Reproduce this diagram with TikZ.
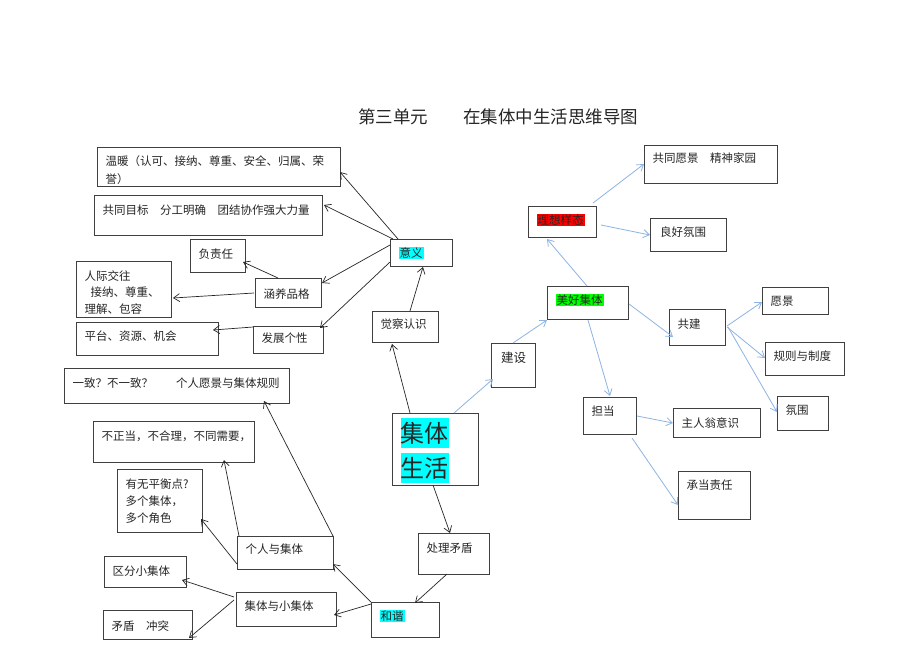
\documentclass[tikz,border=0pt]{standalone}
\usepackage{fontspec}
\newfontfamily\cjk{Noto Sans CJK SC}
\usetikzlibrary{arrows.meta}
\definecolor{boxc}{HTML}{404040}
\definecolor{bluec}{HTML}{8DB4E2}
\definecolor{hlcyan}{HTML}{00FFFF}
\definecolor{hlred}{HTML}{FF0000}
\definecolor{hlgreen}{HTML}{00FF00}
\newcommand{\hl}[2]{{\setlength{\fboxsep}{1pt}\colorbox{#1}{#2}}}
\newcommand{\bighl}[1]{{\setlength{\fboxsep}{0pt}\colorbox{hlcyan}{\rule[-6pt]{0pt}{30pt}#1}}}
\newcommand{\bx}[8]{\node[box] (#1) at (#2,#3) {\parbox[t][\dimexpr#5pt-#3pt\relax][t]{\dimexpr#4pt-#2pt\relax}{\baselineskip=#7pt\vspace*{\dimexpr#6pt+1.5pt\relax}\leftskip=8.5pt\noindent #8}};}
\begin{document}
\begin{tikzpicture}[x=1pt,y=-1pt,
  font=\cjk\fontsize{11.5}{17}\selectfont,
  box/.style={draw=boxc, line width=0.9pt, inner sep=0pt, outer sep=0pt, anchor=north west, text=black!85},
  bk/.style={draw=black!85, line width=0.7pt, -{Straight Barb[length=6pt,width=8pt]}},
  bl/.style={draw=bluec, line width=0.8pt, -{Straight Barb[length=6pt,width=8pt]}}]
\fill[white] (0,0) rectangle (920,651);
\useasboundingbox (0,0) rectangle (920,651);

\node[font=\cjk\fontsize{17.5}{20}\selectfont, text=black!85] (title) at (498,117) {第三单元　　在集体中生活思维导图};

% left side
\bx{wennuan}{97}{147}{340}{186}{7}{18}{温暖（认可、接纳、尊重、安全、归属、荣\\誉）}
\bx{mubiao}{94}{195}{322}{235}{8}{17}{共同目标　分工明确　团结协作强大力量}
\bx{fuzeren}{190}{239}{245}{272}{8}{17}{负责任}
\bx{renji}{76}{261}{171}{317}{8}{16.5}{人际交往\\\hspace*{6pt}接纳、尊重、\\理解、包容}
\bx{hanyang}{255}{278}{321}{307}{9}{17}{涵养品格}
\bx{pingtai}{76}{322}{218}{355}{7}{17}{平台、资源、机会}
\bx{fazhan}{253}{326}{323}{353}{5.5}{17}{发展个性}
\bx{yiyi}{390}{239}{452}{266}{6}{17}{\hl{hlcyan}{意义}}
\bx{juecha}{372}{311}{438}{342}{6}{17}{觉察认识}
\bx{yizhi}{64}{368}{289}{403}{8}{17}{一致？不一致？　　个人愿景与集体规则}
\bx{buzheng}{93}{421}{254}{462}{8}{17}{不正当，不合理，不同需要，}
\bx{youwu}{117}{469}{202}{532}{8}{17}{有无平衡点?\\多个集体，\\多个角色}
\bx{geren}{237}{536}{333}{569}{6}{17}{个人与集体}
\bx{qufen}{104}{556}{186}{587}{8}{17}{区分小集体}
\bx{xiaojiti}{236}{592}{336}{626}{7}{17}{集体与小集体}
\bx{maodun}{103}{610}{192}{639}{9}{17}{矛盾　冲突}
\bx{hexie}{371}{602}{439}{637}{6}{17}{\hl{hlcyan}{和谐}}
\bx{chuli}{418}{533}{489}{574}{8}{17}{处理矛盾}
\bx{jiti}{392}{413}{478}{485}{3.5}{35}{\fontsize{24}{35}\selectfont\bighl{集体}\\\bighl{生活}}

% right side
\bx{gongtong}{644}{145}{777}{183}{6}{17}{共同愿景　精神家园}
\bx{lixiang}{528}{206}{596}{237}{6}{17}{\hl{hlred}{理想样态}}
\bx{lianghao}{650}{218}{726}{251}{7}{17}{\hspace*{1.5pt}良好氛围}
\bx{meihao}{547}{286}{628}{319}{6}{17}{\hl{hlgreen}{美好集体}}
\bx{gongjian}{669}{309}{725}{345}{8}{17}{共建}
\bx{yuanjing}{762}{287}{828}{314}{8}{17}{愿景}
\bx{guize}{765}{342}{844}{375}{7}{17}{规则与制度}
\bx{fenwei}{777}{396}{828}{430}{7}{17}{氛围}
\bx{jianshe}{491}{343}{535}{387}{7}{17}{\fontsize{12.5}{17}\selectfont\hspace*{1.5pt}建设}
\bx{dandang}{583}{397}{636}{434}{7}{17}{担当}
\bx{zhuren}{673}{408}{760}{437}{8}{17}{主人翁意识}
\bx{chengdang}{678}{471}{750}{519}{7}{17}{承当责任}

% black connectors
\draw[bk] ([shift={(8,0)}]yiyi.north west) -- ([shift={(243,25)}]wennuan.north west);
\draw[bk] ([shift={(3,0)}]yiyi.north west) -- ([shift={(230,10)}]mubiao.north west);
\draw[bk] ([shift={(0,6)}]yiyi.north west) -- ([shift={(67,5)}]hanyang.north west);
\draw[bk] ([shift={(0,23)}]yiyi.north west) -- ([shift={(67,2)}]fazhan.north west);
\draw[bk] ([shift={(23,0)}]hanyang.north west) -- ([shift={(53,23)}]fuzeren.north west);
\draw[bk] ([shift={(-1,15)}]hanyang.north west) -- ([shift={(97,37)}]renji.north west);
\draw[bk] ([shift={(0,1)}]fazhan.north west) -- ([shift={(137,8)}]pingtai.north west);
\draw[bk] ([shift={(38,0)}]juecha.north west) -- ([shift={(33,28)}]yiyi.north west);
\draw[bk] ([shift={(18,0)}]jiti.north west) -- ([shift={(20,33)}]juecha.north west);
\draw[bk] ([shift={(41,72)}]jiti.north west) -- ([shift={(32,0)}]chuli.north west);
\draw[bk] ([shift={(29,41)}]chuli.north west) -- ([shift={(44,1)}]hexie.north west);
\draw[bk] (hexie.north west) -- ([shift={(96,28)}]geren.north west);
\draw[bk] ([shift={(0,2)}]hexie.north west) -- ([shift={(98,23)}]xiaojiti.north west);
\draw[bk] ([shift={(96,0)}]geren.north west) -- ([shift={(200,33)}]yizhi.north west);
\draw[bk] ([shift={(2,0)}]geren.north west) -- ([shift={(131,39)}]buzheng.north west);
\draw[bk] ([shift={(0,28)}]geren.north west) -- ([shift={(84,50)}]youwu.north west);
\draw[bk] ([shift={(-2,5)}]xiaojiti.north west) -- ([shift={(78,24)}]qufen.north west);
\draw[bk] ([shift={(-2,8)}]xiaojiti.north west) -- ([shift={(86,28)}]maodun.north west);

% blue connectors
\draw[bl] ([shift={(62,0)}]jiti.north west) -- ([shift={(2,36)}]jianshe.north west);
\draw[bl] ([shift={(22,0)}]jianshe.north west) -- ([shift={(0,34)}]meihao.north west);
\draw[bl] ([shift={(40,0)}]meihao.north west) -- ([shift={(19,33)}]lixiang.north west);
\draw[bl] ([shift={(65,-3)}]lixiang.north west) -- ([shift={(0,19)}]gongtong.north west);
\draw[bl] ([shift={(73,19)}]lixiang.north west) -- ([shift={(0,17)}]lianghao.north west);
\draw[bl] ([shift={(82,18)}]meihao.north west) -- ([shift={(4,28)}]gongjian.north west);
\draw[bl] ([shift={(41,34)}]meihao.north west) -- ([shift={(27,-1)}]dandang.north west);
\draw[bl] ([shift={(58,17)}]gongjian.north west) -- ([shift={(0,15)}]yuanjing.north west);
\draw[bl] ([shift={(58,18)}]gongjian.north west) -- ([shift={(0,16)}]guize.north west);
\draw[bl] ([shift={(59,18)}]gongjian.north west) -- ([shift={(0,16)}]fenwei.north west);
\draw[bl] ([shift={(54,19)}]dandang.north west) -- ([shift={(0,15)}]zhuren.north west);
\draw[bl] ([shift={(49,41)}]dandang.north west) -- ([shift={(0,34)}]chengdang.north west);
\end{tikzpicture}
\end{document}
